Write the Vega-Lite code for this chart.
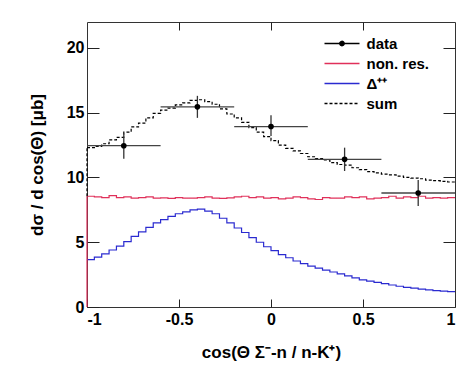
{
 "$schema": "https://vega.github.io/schema/vega-lite/v6.json",
 "width": 368, "height": 285,
 "autosize": {"type": "none"},
 "padding": {"left": 87, "top": 22, "right": 19, "bottom": 65},
 "background": "white",
 "config": {
  "view": {"stroke": "#333", "strokeWidth": 1},
  "font": "Liberation Sans",
  "axis": {"labelFont": "Liberation Sans", "labelFontWeight": "bold", "labelFontSize": 16, "labelColor": "#000", "titleFont": "Liberation Sans", "titleFontWeight": "bold", "titleFontSize": 17, "titleColor": "#000", "grid": false, "domain": false, "tickColor": "#222", "tickWidth": 1},
  "legend": {"orient": "none", "legendX": 235, "legendY": 14, "symbolType": "M-3.5,0H3.5", "symbolSize": 100, "symbolOffset": 12.5, "symbolStrokeWidth": 1.3, "labelFont": "Liberation Sans", "labelFontSize": 15, "labelFontWeight": "bold", "labelColor": "#000", "labelOffset": 17, "rowPadding": 4}
 },
 "datasets": {
  "hist": [
   {"x": -1, "nonres": 8.55, "delta": 3.65, "sum": 12.3},
   {"x": -0.96, "nonres": 8.5, "delta": 3.85, "sum": 12.4},
   {"x": -0.92, "nonres": 8.45, "delta": 4.1, "sum": 12.6},
   {"x": -0.88, "nonres": 8.6, "delta": 4.4, "sum": 12.9},
   {"x": -0.84, "nonres": 8.45, "delta": 4.7, "sum": 13.1},
   {"x": -0.8, "nonres": 8.5, "delta": 5.05, "sum": 13.5},
   {"x": -0.76, "nonres": 8.4, "delta": 5.45, "sum": 13.9},
   {"x": -0.72, "nonres": 8.45, "delta": 5.8, "sum": 14.2},
   {"x": -0.68, "nonres": 8.5, "delta": 6.15, "sum": 14.6},
   {"x": -0.64, "nonres": 8.4, "delta": 6.5, "sum": 14.95},
   {"x": -0.6, "nonres": 8.42, "delta": 6.75, "sum": 15.2},
   {"x": -0.56, "nonres": 8.38, "delta": 7.0, "sum": 15.35},
   {"x": -0.52, "nonres": 8.45, "delta": 7.2, "sum": 15.6},
   {"x": -0.48, "nonres": 8.4, "delta": 7.35, "sum": 15.75},
   {"x": -0.44, "nonres": 8.4, "delta": 7.5, "sum": 15.95},
   {"x": -0.4, "nonres": 8.45, "delta": 7.55, "sum": 16.0},
   {"x": -0.36, "nonres": 8.5, "delta": 7.4, "sum": 15.85},
   {"x": -0.32, "nonres": 8.4, "delta": 7.2, "sum": 15.65},
   {"x": -0.28, "nonres": 8.38, "delta": 6.85, "sum": 15.3},
   {"x": -0.24, "nonres": 8.42, "delta": 6.5, "sum": 14.9},
   {"x": -0.2, "nonres": 8.5, "delta": 6.1, "sum": 14.6},
   {"x": -0.16, "nonres": 8.55, "delta": 5.75, "sum": 14.25},
   {"x": -0.12, "nonres": 8.45, "delta": 5.35, "sum": 13.85},
   {"x": -0.08, "nonres": 8.5, "delta": 5.0, "sum": 13.5},
   {"x": -0.04, "nonres": 8.4, "delta": 4.65, "sum": 13.15},
   {"x": 0, "nonres": 8.45, "delta": 4.35, "sum": 12.85},
   {"x": 0.04, "nonres": 8.35, "delta": 4.05, "sum": 12.5},
   {"x": 0.08, "nonres": 8.4, "delta": 3.8, "sum": 12.25},
   {"x": 0.12, "nonres": 8.5, "delta": 3.55, "sum": 12.05},
   {"x": 0.16, "nonres": 8.45, "delta": 3.35, "sum": 11.85},
   {"x": 0.2, "nonres": 8.35, "delta": 3.15, "sum": 11.6},
   {"x": 0.24, "nonres": 8.3, "delta": 3.0, "sum": 11.45},
   {"x": 0.28, "nonres": 8.45, "delta": 2.85, "sum": 11.35},
   {"x": 0.32, "nonres": 8.4, "delta": 2.7, "sum": 11.15},
   {"x": 0.36, "nonres": 8.4, "delta": 2.55, "sum": 11.0},
   {"x": 0.4, "nonres": 8.5, "delta": 2.4, "sum": 10.95},
   {"x": 0.44, "nonres": 8.45, "delta": 2.25, "sum": 10.75},
   {"x": 0.48, "nonres": 8.5, "delta": 2.1, "sum": 10.6},
   {"x": 0.52, "nonres": 8.35, "delta": 2.0, "sum": 10.45},
   {"x": 0.56, "nonres": 8.4, "delta": 1.9, "sum": 10.35},
   {"x": 0.6, "nonres": 8.45, "delta": 1.8, "sum": 10.25},
   {"x": 0.64, "nonres": 8.55, "delta": 1.7, "sum": 10.2},
   {"x": 0.68, "nonres": 8.4, "delta": 1.6, "sum": 10.1},
   {"x": 0.72, "nonres": 8.5, "delta": 1.52, "sum": 10.0},
   {"x": 0.76, "nonres": 8.45, "delta": 1.45, "sum": 9.95},
   {"x": 0.8, "nonres": 8.55, "delta": 1.38, "sum": 9.9},
   {"x": 0.84, "nonres": 8.4, "delta": 1.32, "sum": 9.8},
   {"x": 0.88, "nonres": 8.45, "delta": 1.27, "sum": 9.75},
   {"x": 0.92, "nonres": 8.4, "delta": 1.22, "sum": 9.7},
   {"x": 0.96, "nonres": 8.45, "delta": 1.18, "sum": 9.65},
   {"x": 1, "nonres": 8.45, "delta": 1.18, "sum": 9.65}
  ],
  "edges": [
   {"x": -1, "y0": 0, "y1": 8.55, "series": "nonres"},
   {"x": -1, "y0": 8.55, "y1": 12.3, "series": "sum"}
  ],
  "pts": [
   {"x": -0.8, "xlo": -1.0, "xhi": -0.6, "y": 12.45, "ylo": 11.45, "yhi": 13.4, "series": "data"},
   {"x": -0.4, "xlo": -0.6, "xhi": -0.2, "y": 15.45, "ylo": 14.6, "yhi": 16.3, "series": "data"},
   {"x": 0.0, "xlo": -0.2, "xhi": 0.2, "y": 13.93, "ylo": 13.2, "yhi": 14.8, "series": "data"},
   {"x": 0.4, "xlo": 0.2, "xhi": 0.6, "y": 11.4, "ylo": 10.5, "yhi": 12.3, "series": "data"},
   {"x": 0.8, "xlo": 0.6, "xhi": 1.0, "y": 8.8, "ylo": 7.8, "yhi": 9.8, "series": "data"}
  ]
 },
 "resolve": {"axis": {"x": "independent", "y": "independent"}},
 "layer": [
  {
   "data": {"name": "hist"},
   "transform": [{"fold": ["nonres", "delta", "sum"], "as": ["series", "y"]}],
   "mark": {"type": "line", "interpolate": "step-after", "strokeWidth": 1.2},
   "encoding": {
    "x": {"field": "x", "type": "quantitative", "scale": {"domain": [-1, 1], "nice": false, "zero": false},
     "axis": {"orient": "bottom", "values": [-1, -0.5, 0, 0.5, 1], "tickSize": -8, "labelPadding": 12, "labelExpr": "'' + datum.value", "title": "cos(Θ Σ⁻-n / n-K⁺)", "titlePadding": 17}},
    "y": {"field": "y", "type": "quantitative", "scale": {"domain": [0, 22], "nice": false, "zero": true},
     "axis": {"orient": "left", "values": [0, 5, 10, 15, 20], "tickSize": -12, "labelPadding": 15, "title": "dσ / d cos(Θ)   [μb]", "titleX": -50, "titleY": 142.5, "titleBaseline": "middle", "titleAngle": -90}},
    "color": {"field": "series", "type": "nominal",
     "scale": {"domain": ["data", "nonres", "delta", "sum"], "range": ["#000000", "#e0305a", "#2a2ad0", "#000000"]},
     "legend": {"title": null, "labelExpr": "datum.label == 'nonres' ? 'non.  res.' : datum.label == 'delta' ? 'Δ⁺⁺' : datum.label",
      "encode": {"symbols": {"update": {"shape": {"signal": "datum.value == 'data' ? 'M-3.5,0H3.5M0.45,0A0.45,0.45,0,1,1,-0.45,0A0.45,0.45,0,1,1,0.45,0Z' : 'M-3.5,0H3.5'"}, "fill": {"signal": "datum.value == 'data' ? '#000' : 'transparent'"}}}}}},
    "strokeDash": {"field": "series", "type": "nominal",
     "scale": {"domain": ["data", "nonres", "delta", "sum"], "range": [[1, 0], [1, 0], [1, 0], [3, 2]]},
     "legend": {"title": null, "labelExpr": "datum.label == 'nonres' ? 'non.  res.' : datum.label == 'delta' ? 'Δ⁺⁺' : datum.label",
      "encode": {"symbols": {"update": {"shape": {"signal": "datum.value == 'data' ? 'M-3.5,0H3.5M0.45,0A0.45,0.45,0,1,1,-0.45,0A0.45,0.45,0,1,1,0.45,0Z' : 'M-3.5,0H3.5'"}, "fill": {"signal": "datum.value == 'data' ? '#000' : 'transparent'"}}}}}}
   }
  },
  {
   "data": {"name": "edges"},
   "mark": {"type": "rule", "strokeWidth": 1.2},
   "encoding": {
    "x": {"field": "x", "type": "quantitative", "axis": null},
    "y": {"field": "y0", "type": "quantitative", "axis": null},
    "y2": {"field": "y1"},
    "color": {"field": "series", "type": "nominal", "legend": null},
    "strokeDash": {"field": "series", "type": "nominal", "legend": null}
   }
  },
  {
   "data": {"name": "pts"},
   "mark": {"type": "rule", "strokeWidth": 1.3, "color": "#444"},
   "encoding": {
    "x": {"field": "xlo", "type": "quantitative", "axis": null},
    "x2": {"field": "xhi"},
    "y": {"field": "y", "type": "quantitative", "axis": null}
   }
  },
  {
   "data": {"name": "pts"},
   "mark": {"type": "rule", "strokeWidth": 1.3, "color": "#333"},
   "encoding": {
    "x": {"field": "x", "type": "quantitative", "axis": null},
    "y": {"field": "ylo", "type": "quantitative", "axis": null},
    "y2": {"field": "yhi"}
   }
  },
  {
   "data": {"name": "pts"},
   "mark": {"type": "point", "filled": true, "size": 32, "opacity": 1},
   "encoding": {
    "x": {"field": "x", "type": "quantitative", "axis": null},
    "y": {"field": "y", "type": "quantitative", "axis": null},
    "color": {"field": "series", "type": "nominal"}
   }
  },
  {
   "data": {"name": "pts"},
   "mark": {"type": "point", "opacity": 0},
   "encoding": {
    "x": {"field": "x", "type": "quantitative", "axis": {"orient": "top", "values": [-0.5, 0, 0.5], "tickSize": -8, "labels": false, "title": null}},
    "y": {"field": "y", "type": "quantitative", "axis": {"orient": "right", "values": [5, 10, 15, 20], "tickSize": -12, "labels": false, "title": null}}
   }
  }
 ]
}
